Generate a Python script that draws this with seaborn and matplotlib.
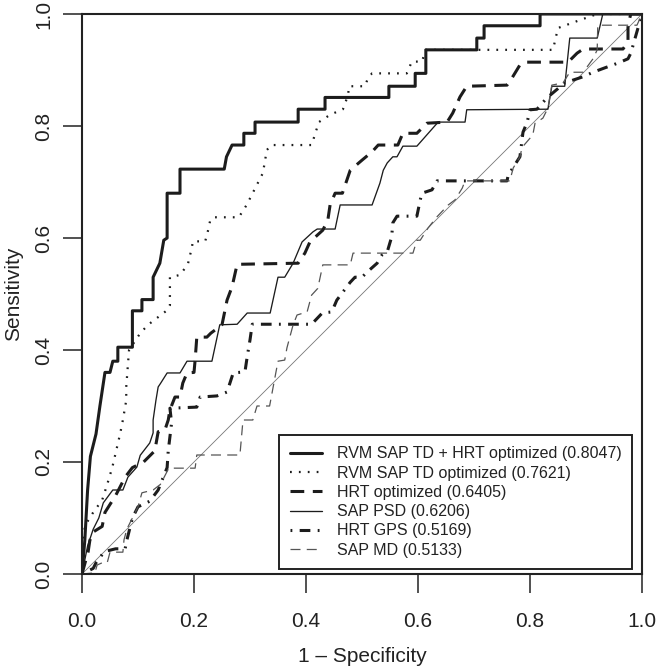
import numpy as np
import pandas as pd
import seaborn as sns
import matplotlib
matplotlib.use("Agg")
import matplotlib.pyplot as plt

# ROC points (1 - specificity, sensitivity)
fpr_combo = [0, 0.005, 0.01, 0.015, 0.025, 0.032, 0.041, 0.05, 0.055, 0.064, 0.064, 0.09, 0.09, 0.107,
             0.107, 0.127, 0.127, 0.139, 0.146, 0.152, 0.152, 0.175, 0.175, 0.254, 0.258, 0.268, 0.289,
             0.289, 0.309, 0.309, 0.386, 0.386, 0.434, 0.434, 0.548, 0.548, 0.595, 0.595, 0.614, 0.614,
             0.705, 0.705, 0.718, 0.718, 0.818, 0.818, 1.0]
tpr_combo = [0, 0.06, 0.15, 0.21, 0.25, 0.30, 0.36, 0.36, 0.38, 0.38, 0.405, 0.405, 0.47, 0.47,
             0.49, 0.49, 0.53, 0.555, 0.596, 0.60, 0.68, 0.68, 0.723, 0.723, 0.745, 0.766, 0.766,
             0.787, 0.787, 0.807, 0.807, 0.830, 0.830, 0.851, 0.851, 0.871, 0.871, 0.894, 0.894, 0.936,
             0.936, 0.957, 0.957, 0.979, 0.979, 1.0, 1.0]

fpr_td = [0, 0.005, 0.02, 0.036, 0.045, 0.054, 0.068, 0.073, 0.079, 0.079, 0.084, 0.104, 0.118, 0.152,
          0.157, 0.157, 0.175, 0.189, 0.196, 0.198, 0.22, 0.226, 0.229, 0.236, 0.28, 0.294, 0.323,
          0.327, 0.33, 0.338, 0.41, 0.423, 0.443, 0.466, 0.475, 0.477, 0.505, 0.511, 0.518, 0.58,
          0.589, 0.607, 0.614, 0.841, 0.85, 0.886, 0.92, 1.0]
tpr_td = [0, 0.086, 0.11, 0.132, 0.16, 0.19, 0.25, 0.275, 0.31, 0.334, 0.40, 0.43, 0.445, 0.471,
          0.48, 0.53, 0.534, 0.553, 0.582, 0.594, 0.594, 0.617, 0.632, 0.637, 0.637, 0.659, 0.716,
          0.739, 0.757, 0.766, 0.766, 0.807, 0.82, 0.83, 0.855, 0.871, 0.871, 0.886, 0.894, 0.894,
          0.915, 0.915, 0.936, 0.936, 0.975, 0.988, 1.0, 1.0]

fpr_hrt = [0, 0.011, 0.014, 0.02, 0.036, 0.041, 0.06, 0.077, 0.09, 0.11, 0.13, 0.136, 0.148, 0.154,
           0.157, 0.166, 0.175, 0.18, 0.1875, 0.2, 0.202, 0.205, 0.223, 0.23, 0.25, 0.259, 0.268,
           0.277, 0.386, 0.398, 0.407, 0.43, 0.439, 0.443, 0.452, 0.465, 0.479, 0.5, 0.518, 0.529,
           0.564, 0.573, 0.598, 0.616, 0.652, 0.662, 0.675, 0.687, 0.759, 0.768, 0.782, 0.791, 0.868,
           0.884, 0.895, 0.966, 0.975, 0.975, 0.98, 1.0]
tpr_hrt = [0, 0.04, 0.06, 0.075, 0.085, 0.11, 0.14, 0.173, 0.19, 0.2, 0.22, 0.254, 0.257, 0.275,
           0.293, 0.316, 0.316, 0.341, 0.359, 0.36, 0.382, 0.423, 0.423, 0.43, 0.445, 0.489, 0.513,
           0.553, 0.555, 0.573, 0.593, 0.614, 0.632, 0.659, 0.68, 0.68, 0.721, 0.739, 0.754, 0.766,
           0.766, 0.787, 0.787, 0.805, 0.807, 0.823, 0.852, 0.871, 0.873, 0.886, 0.909, 0.914, 0.914,
           0.93, 0.9375, 0.9375, 0.95, 0.98, 1.0, 1.0]

fpr_psd = [0, 0.01, 0.02, 0.03, 0.038, 0.055, 0.073, 0.082, 0.098, 0.104, 0.121, 0.127, 0.127, 0.132,
           0.136, 0.14, 0.152, 0.175, 0.1875, 0.232, 0.246, 0.277, 0.295, 0.336, 0.35, 0.362, 0.377,
           0.393, 0.4125, 0.42, 0.452, 0.461, 0.518, 0.532, 0.538, 0.545, 0.555, 0.5625, 0.573,
           0.598, 0.636, 0.684, 0.687, 0.832, 0.839, 0.862, 0.871, 0.92, 0.93, 1.0]
tpr_psd = [0, 0.05, 0.08, 0.10, 0.127, 0.15, 0.15, 0.173, 0.191, 0.212, 0.234, 0.252, 0.275, 0.31,
           0.334, 0.34, 0.359, 0.359, 0.38, 0.38, 0.445, 0.446, 0.466, 0.466, 0.53, 0.53, 0.555,
           0.593, 0.611, 0.616, 0.616, 0.659, 0.659, 0.698, 0.721, 0.734, 0.745, 0.745, 0.764,
           0.764, 0.807, 0.807, 0.829, 0.83, 0.871, 0.871, 0.957, 0.957, 1.0, 1.0]

fpr_gps = [0, 0.02, 0.025, 0.04, 0.06, 0.077, 0.08, 0.09, 0.1, 0.121, 0.136, 0.152, 0.154, 0.16,
           0.157, 0.205, 0.211, 0.241, 0.259, 0.27, 0.291, 0.295, 0.3, 0.304, 0.41, 0.429, 0.446,
           0.455, 0.479, 0.4875, 0.5, 0.509, 0.527, 0.536, 0.545, 0.553, 0.555, 0.5625, 0.598, 0.604,
           0.607, 0.625, 0.634, 0.759, 0.761, 0.782, 0.7875, 0.795, 0.8, 0.8125, 0.83, 0.862, 0.877,
           0.895, 0.9125, 0.934, 0.948, 0.961, 0.975, 0.98, 1.0]
tpr_gps = [0, 0.01, 0.02, 0.04, 0.045, 0.045, 0.06, 0.1, 0.12, 0.13, 0.15, 0.19, 0.22, 0.27,
           0.296, 0.298, 0.316, 0.318, 0.325, 0.359, 0.361, 0.388, 0.418, 0.446, 0.446, 0.466, 0.468,
           0.489, 0.521, 0.53, 0.53, 0.539, 0.555, 0.57, 0.575, 0.602, 0.627, 0.639, 0.639, 0.668,
           0.68, 0.686, 0.702, 0.702, 0.712, 0.745, 0.789, 0.807, 0.829, 0.83, 0.85, 0.877, 0.882,
           0.888, 0.896, 0.904, 0.909, 0.914, 0.92, 0.93, 1.0]

fpr_md = [0, 0.023, 0.027, 0.036, 0.045, 0.05, 0.073, 0.075, 0.08, 0.1, 0.107, 0.127, 0.14, 0.155,
          0.202, 0.205, 0.282, 0.2875, 0.305, 0.3125, 0.335, 0.35, 0.362, 0.366, 0.377, 0.384, 0.402,
          0.41, 0.421, 0.43, 0.479, 0.484, 0.591, 0.598, 0.604, 0.618, 0.634, 0.654, 0.666, 0.679,
          0.684, 0.764, 0.77, 0.782, 0.786, 0.805, 0.809, 0.823, 0.832, 0.839, 0.859, 0.871, 0.895,
          0.9125, 0.92, 0.921, 0.991, 1.0]
tpr_md = [0, 0.002, 0.016, 0.02, 0.02, 0.039, 0.039, 0.061, 0.08, 0.12, 0.145, 0.15, 0.16, 0.189,
          0.189, 0.2125, 0.2125, 0.275, 0.275, 0.3, 0.3, 0.38, 0.382, 0.404, 0.445, 0.4625, 0.468,
          0.498, 0.51, 0.552, 0.552, 0.573, 0.573, 0.596, 0.596, 0.618, 0.638, 0.659, 0.668, 0.689,
          0.702, 0.702, 0.725, 0.745, 0.762, 0.784, 0.805, 0.814, 0.832, 0.873, 0.877, 0.896, 0.896,
          0.92, 0.936, 0.98, 0.98, 1.0]

labels = ["RVM SAP TD + HRT optimized (0.8047)", "RVM SAP TD optimized (0.7621)",
          "HRT optimized (0.6405)", "SAP PSD (0.6206)", "HRT GPS (0.5169)", "SAP MD (0.5133)"]

curves = [(fpr_combo, tpr_combo), (fpr_td, tpr_td), (fpr_hrt, tpr_hrt),
          (fpr_psd, tpr_psd), (fpr_gps, tpr_gps), (fpr_md, tpr_md)]
# colour, linewidth (pt), linestyle
styles = [("#1c1c1c", 2.2, "-"),
          ("#1c1c1c", 1.6, (0, (0.8, 3.2))),
          ("#1c1c1c", 2.2, (0, (4.5, 2.8))),
          ("#1c1c1c", 0.95, "-"),
          ("#1c1c1c", 2.2, (0, (0.6, 2.4, 3.5, 2.4))),
          ("#555555", 0.9, (0, (8, 5)))]

sns.set_theme(style="white")
plt.rcParams['font.family'] = ['Liberation Sans', 'DejaVu Sans']

fig = plt.figure(figsize=(6.57, 6.69), dpi=100)
ax = fig.add_axes([82 / 657, 95 / 669, 560 / 657, 560 / 669])

# chance diagonal
sns.lineplot(x=[0, 1], y=[0, 1], ax=ax, color="#777777", lw=0.6)

for (fx, ty), lab, (col, lw, ls) in zip(curves, labels, styles):
    df = pd.DataFrame({"fpr": fx, "tpr": ty})
    sns.lineplot(data=df, x="fpr", y="tpr", sort=False, estimator=None, ax=ax,
                 color=col, lw=lw, linestyle=ls, label=lab)

ax.set_xlim(0, 1)
ax.set_ylim(0, 1)
ticks = np.arange(0, 1.01, 0.2)
ax.set_xticks(ticks)
ax.set_yticks(ticks)
ax.set_xticklabels([f"{t:.1f}" for t in ticks])
ax.set_yticklabels([f"{t:.1f}" for t in ticks], rotation=90, va="center")
ax.tick_params(axis="both", direction="out", length=13.5, width=1.1, color="#222222",
               labelsize=15, labelcolor="#222222", bottom=True, left=True)
ax.tick_params(axis="x", pad=14)
ax.tick_params(axis="y", pad=7)
for sp in ax.spines.values():
    sp.set_visible(True)
    sp.set_color("#222222")
    sp.set_linewidth(1.5)

ax.set_xlabel("1 \u2013 Specificity", fontsize=15, color="#222222")
ax.set_ylabel("Sensitivity", fontsize=15, color="#222222")
ax.xaxis.set_label_coords(0.5, -0.13)
ax.yaxis.set_label_coords(-0.105, 0.5)

leg = ax.legend(loc="lower right", bbox_to_anchor=(0.983, 0.009), borderaxespad=0,
                fancybox=False, framealpha=1, edgecolor="#222222", fontsize=11.5,
                handlelength=2.0, handletextpad=0.9, labelspacing=0.27, borderpad=0.7)
leg.get_frame().set_linewidth(1.4)
for t in leg.get_texts():
    t.set_color("#222222")

fig.savefig("out.png", dpi=100)
